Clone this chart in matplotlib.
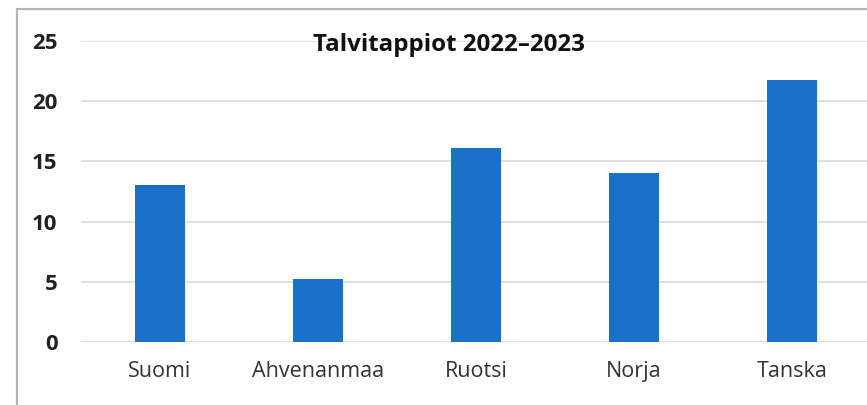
import matplotlib
matplotlib.use("Agg")
import matplotlib.pyplot as plt
from matplotlib.patches import Rectangle

maat = ["Suomi", "Ahvenanmaa", "Ruotsi", "Norja", "Tanska"]
tappiot = [13.0, 5.2, 16.1, 14.0, 21.8]
y_tikit = [0, 5, 10, 15, 20, 25]

plt.rcParams['font.family'] = ['Open Sans', 'DejaVu Sans']

fig = plt.figure(figsize=(8.67, 4.05), dpi=100)
# kehys (oikea ja ala reuna jäävät kuvan ulkopuolelle)
fig.patches.append(Rectangle((17 / 867, -0.1), 1.2, 1 - 9 / 405 + 0.1,
                             transform=fig.transFigure, fill=False,
                             edgecolor="#b4b4b4", linewidth=1.6))

ax = fig.add_axes([81 / 867, 1 - 342 / 405, 790 / 867, 301 / 405])
x = range(len(maat))
ax.bar(x, tappiot, width=0.32, color="#1a72c8", zorder=3)
ax.set_xlim(-0.5, len(maat) - 0.5)
ax.set_ylim(0, 25)
ax.set_yticks(y_tikit)
ax.set_yticklabels([str(v) for v in y_tikit], fontsize=16, fontweight="bold", color="#222222")
ax.set_xticks(list(x))
ax.set_xticklabels(maat, fontsize=15.5, color="#333333")
ax.tick_params(axis="both", length=0)
ax.tick_params(axis="y", pad=17)
ax.tick_params(axis="x", pad=14)
ax.grid(axis="y", color="#d9d9d9", linewidth=1.2, zorder=0)
for s in ax.spines.values():
    s.set_visible(False)
ax.set_facecolor("none")

ax.text(1.83, 24.7, "Talvitappiot 2022–2023", ha="center", va="center",
        fontsize=17.4, fontweight="bold", color="#111111")

fig.savefig("out.png", dpi=100)
